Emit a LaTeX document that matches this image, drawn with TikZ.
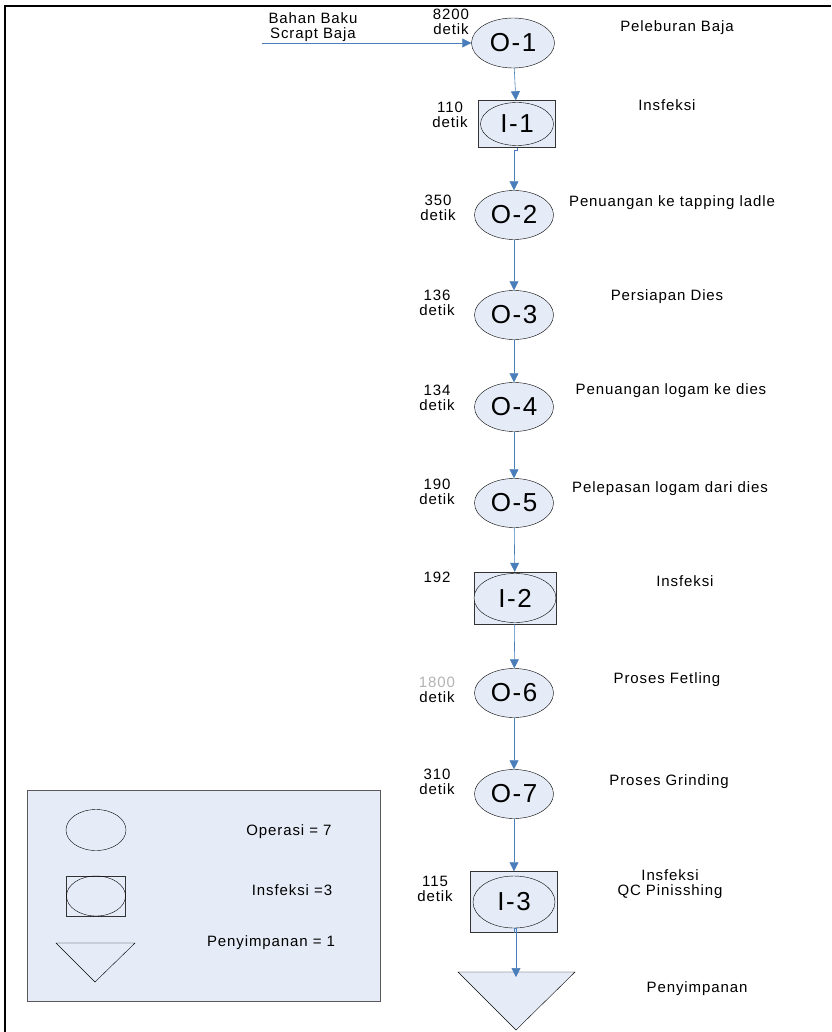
\documentclass[tikz,border=0pt]{standalone}
\usepackage{fontspec}
\setmainfont{Liberation Sans}[LetterSpace=6]
\newfontfamily\bigfont{Liberation Sans}[LetterSpace=6]
\usetikzlibrary{arrows.meta,positioning,shapes.geometric,calc}
\definecolor{shapefill}{HTML}{E6ECF7}
\definecolor{flowblue}{HTML}{4A7EBB}

\begin{document}
\begin{tikzpicture}[x=1pt,y=-1pt,>={Triangle[length=9pt,width=9pt]},
  op/.style={ellipse,draw,fill=shapefill,minimum width=79pt,minimum height=49pt,
    inner sep=0pt,font=\bigfont\fontsize{26}{26}\selectfont},
  bx/.style={rectangle,draw=black!80,fill=shapefill,inner sep=0pt},
  fl/.style={->,flowblue,semithick},
  lb/.style={font=\fontsize{15}{14.5}\selectfont,align=center,inner sep=0pt}]
  \useasboundingbox (0,0) rectangle (831,1032);
  % frame
  \draw[line width=2pt] (4,6) -- (831,6);
  \draw[line width=2pt] (5,5) -- (5,1032);

  % process column
  \node[op,minimum width=83pt,minimum height=50pt] (o1) at (513,43) {O-1};
  \node[bx,minimum width=77pt,minimum height=47pt] (i1b) at (517,124) {};
  \node[op,minimum width=73pt,minimum height=43pt] (i1) at (517,124) {I-1};
  \node[op] (o2) at (514,215) {O-2};
  \node[op] (o3) at (514,315) {O-3};
  \node[op] (o4) at (514,407) {O-4};
  \node[op] (o5) at (514,503) {O-5};
  \node[bx,minimum width=82pt,minimum height=52pt] (i2b) at (515,598) {};
  \node[op,minimum width=82pt] (i2) at (515,598) {I-2};
  \node[op] (o6) at (514,693) {O-6};
  \node[op] (o7) at (514,794) {O-7};
  \node[bx,minimum width=87pt,minimum height=61pt] (i3b) at (514,902) {};
  \node[op,minimum width=82pt,minimum height=52pt] (i3) at (514,902) {I-3};
  \draw[fill=shapefill] (458,972) -- (575,972) -- (516,1030) -- cycle;
  \coordinate (sp) at (516,977);
  \coordinate (in) at (262,43);

  % flow
  \draw[fl] (in) -- (o1);
  \draw[fl] (o1) -- (i1b);
  \draw[fl] (i1b) -- ++(0,26) -| (o2);
  \draw[fl] (o2) -- (o3);
  \draw[fl] (o3) -- (o4);
  \draw[fl] (o4) -- (o5);
  \draw[fl] (o5) -- (i2b);
  \draw[fl] (i2b) -- (o6);
  \draw[fl] (o6) -- (o7);
  \draw[fl] (o7) -- (i3b);
  \draw[fl] (i3b) -- ++(0,26) -| (sp);

  % times
  \node[lb] (inlb) at (313,27) {Bahan Baku\\Scrapt Baja};
  \node[lb] (t1) at (451,22) {8200\\detik};
  \node[lb] (t2) at (450,115) {110\\detik};
  \node[lb] (t3) at (438,208) {350\\detik};
  \node[lb] (t4) at (437,303) {136\\detik};
  \node[lb] (t5) at (437,398) {134\\detik};
  \node[lb] (t6) at (437,492) {190\\detik};
  \node[lb] (t7) at (437,577) {192};
  \node[lb] (t8) at (437,690) {{\color{black!30}1800}\\detik};
  \node[lb] (t9) at (437,782) {310\\detik};
  \node[lb] (t10) at (435,889) {115\\detik};

  % descriptions
  \node[lb] (d1) at (677,28) {Peleburan Baja};
  \node[lb] (d2) at (667,105) {Insfeksi};
  \node[lb] (d3) at (672,203) {Penuangan ke tapping ladle};
  \node[lb] (d4) at (667,297) {Persiapan Dies};
  \node[lb] (d5) at (671,391) {Penuangan logam ke dies};
  \node[lb] (d6) at (670,489) {Pelepasan logam dari dies};
  \node[lb] (d7) at (685,581) {Insfeksi};
  \node[lb] (d8) at (667,680) {Proses Fetling};
  \node[lb] (d9) at (669,782) {Proses Grinding};
  \node[lb] (d10) at (670,884) {Insfeksi\\QC Pinisshing};
  \node[lb] (d11) at (697,989) {Penyimpanan};

  % legend
  \draw[draw=black!65,fill=shapefill] (27,790) rectangle (380,1001);
  \node[ellipse,draw,minimum width=60pt,minimum height=41pt] (lgop) at (96,830) {};
  \node[rectangle,draw=black!80,minimum width=59pt,minimum height=40pt] (lginb) at (96,896) {};
  \node[ellipse,draw,minimum width=59pt,minimum height=40pt] (lgin) at (96,896) {};
  \draw (56,943) -- (135,943) -- (95,982) -- cycle;
  \node[lb] (lg1) at (289,832) {Operasi = 7};
  \node[lb] (lg2) at (292,890) {Insfeksi =3};
  \node[lb] (lg3) at (271,943) {Penyimpanan = 1};
\end{tikzpicture}
\end{document}
